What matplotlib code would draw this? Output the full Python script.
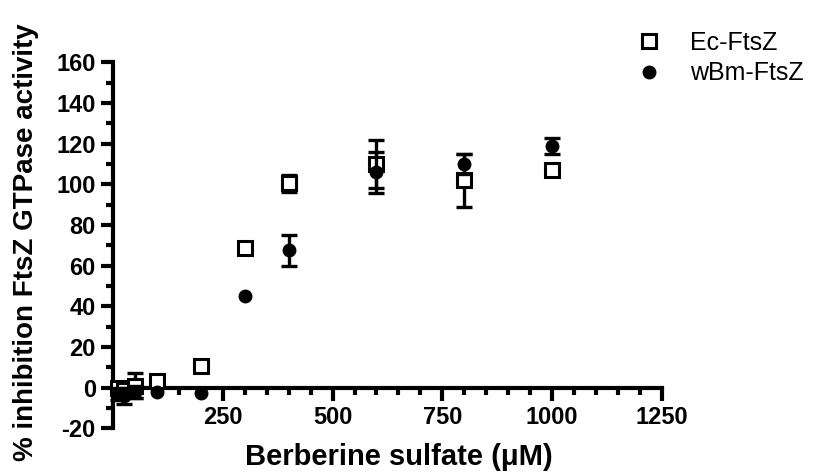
import numpy as np
import matplotlib.pyplot as plt
from matplotlib.ticker import MultipleLocator

plt.rcParams['font.family'] = ['Liberation Sans', 'DejaVu Sans']
plt.rcParams['axes.unicode_minus'] = False

# Berberine sulfate concentration (uM)
conc = [10, 25, 50, 100, 200, 300, 400, 600, 800, 1000]

# Ec-FtsZ % inhibition and errors (0 = no visible bar)
ec_vals = [0, -1, 1, 3.5, 10.5, 68.5, 100.5, 110, 102, 107]
ec_err = [2, 3, 6, 0, 0, 0, 4, 12, 13, 0]

# wBm-FtsZ % inhibition and errors
wbm_vals = [-3, -4, -2, -2, -2.5, 45, 67.5, 106, 110, 119]
wbm_err = [3, 4, 3, 0, 0, 0, 7.5, 10, 5, 4]

fig = plt.figure(figsize=(8.2, 4.73), dpi=100)
ax = fig.add_axes([0.138, 0.0945, 0.669, 0.7735])

lw = 2.4
x = np.asarray(conc, dtype=float)
for vals, err, z in ((ec_vals, ec_err, 3), (wbm_vals, wbm_err, 4)):
    v = np.asarray(vals, dtype=float)
    e = np.asarray(err, dtype=float)
    m = e > 0
    ax.errorbar(x[m], v[m], yerr=e[m], fmt='none', ecolor='black',
                elinewidth=lw, capsize=6, capthick=lw, zorder=z, clip_on=False)

ec, = ax.plot(conc, ec_vals, 's', mfc='white', mec='black', mew=2.2, ms=9.5,
              zorder=3, clip_on=False)
wbm, = ax.plot(conc, wbm_vals, 'o', mfc='black', mec='black', ms=9,
               zorder=4, clip_on=False)

ax.set_xlim(0, 1250)
ax.set_ylim(-20, 160)

ax.spines['right'].set_visible(False)
ax.spines['top'].set_visible(False)
ax.spines['bottom'].set_position(('data', 0))
for s in ('left', 'bottom'):
    ax.spines[s].set_linewidth(3)

ax.xaxis.set_major_locator(MultipleLocator(250))
ax.xaxis.set_minor_locator(MultipleLocator(50))
ax.yaxis.set_major_locator(MultipleLocator(20))
ax.yaxis.set_minor_locator(MultipleLocator(10))
ax.tick_params(which='major', length=9, width=3, labelsize=17, direction='out')
ax.tick_params(which='minor', length=5, width=3, direction='out')
ax.tick_params(axis='x', which='major', pad=4)
ax.set_xticks([250, 500, 750, 1000, 1250])
for lab in ax.get_xticklabels() + ax.get_yticklabels():
    lab.set_fontweight('bold')

ax.set_xlabel('Berberine sulfate (\u03bcM)', fontsize=21, fontweight='bold')
ax.xaxis.set_label_coords(0.521, -0.04)
ax.set_ylabel('% inhibition FtsZ GTPase activity', fontsize=20,
              fontweight='bold')
ax.yaxis.set_label_coords(-0.135, 0.51)

ax.legend([ec, wbm], ['Ec-FtsZ', 'wBm-FtsZ'], loc='center left',
          bbox_to_anchor=(0.75, 0.877), bbox_transform=fig.transFigure,
          frameon=False, fontsize=18, handletextpad=1.2, labelspacing=0.25,
          handlelength=0.9)

fig.savefig('out.png', dpi=100)
